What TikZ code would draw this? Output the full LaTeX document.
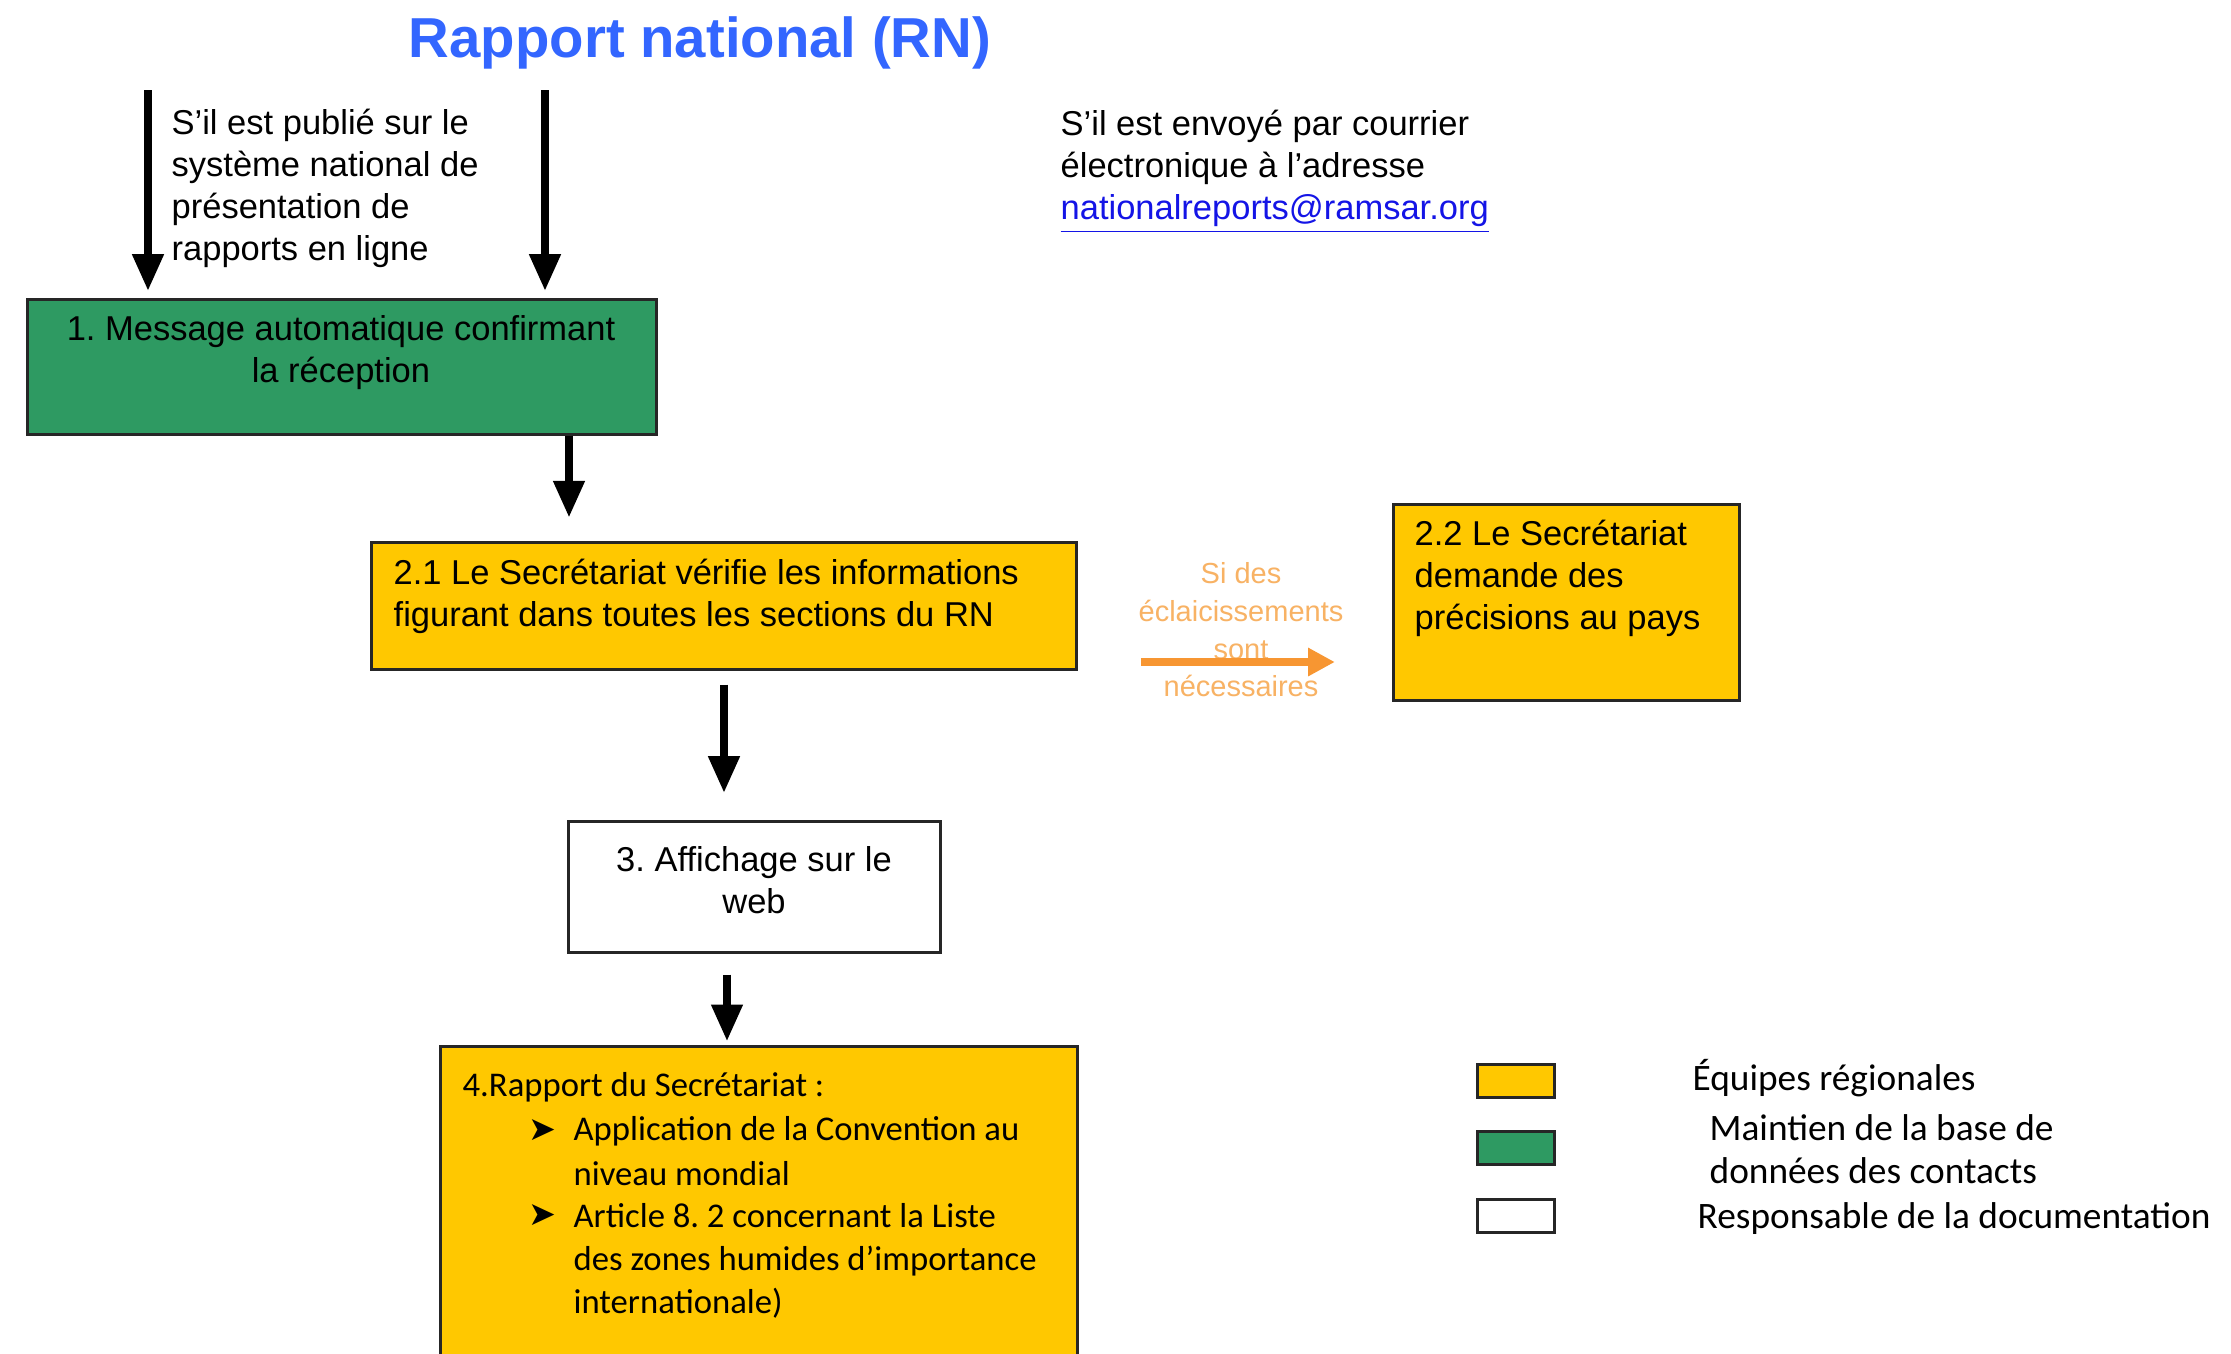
\documentclass[tikz,border=0pt]{standalone}
\usepackage{fontspec}
\setmainfont{Liberation Sans}
\newfontfamily\carl{Carlito}
\newfontfamily\djv{DejaVu Sans}
\usetikzlibrary{arrows.meta}
\definecolor{boxyellow}{RGB}{255,200,0}
\definecolor{boxgreen}{RGB}{46,154,98}
\definecolor{titleblue}{RGB}{51,102,255}
\definecolor{linkblue}{RGB}{20,20,230}
\definecolor{orarrow}{RGB}{247,150,50}
\definecolor{ortext}{RGB}{248,178,100}
\frenchspacing
\begin{document}
\begin{tikzpicture}[x=0.3pt,y=-0.3pt,
  box/.style={draw=black!85,line width=0.9pt,inner sep=0pt},
  txt/.style={inner sep=0pt,font=\fontsize{10.35}{12.6}\selectfont},
  bigarrow/.style={line width=2.3pt,-{Triangle[width=9pt,length=11pt]}},
  orangearrow/.style={draw=orarrow,line width=2.6pt,-{Triangle[width=8pt,length=8pt]}}]
\useasboundingbox (0,0) rectangle (2231,1353);
\clip (0,0) rectangle (2231,1353);
\fill[white] (0,0) rectangle (2231,1353);

% title
\node[inner sep=0pt,font=\fontsize{16.9}{20}\selectfont\bfseries,text=titleblue] (title) at (700,43) {Rapport national (RN)};

% boxes
\node[box,fill=boxgreen,minimum width=188.7pt,minimum height=40.5pt] (box1) at (341.5,366.5) {};
\node[box,fill=boxyellow,minimum width=211.5pt,minimum height=38.1pt] (box21) at (723.5,605.5) {};
\node[box,fill=boxyellow,minimum width=103.8pt,minimum height=58.8pt] (box22) at (1566,602) {};
\node[box,fill=white,minimum width=111.6pt,minimum height=39.3pt] (box3) at (754,886.5) {};
\node[box,fill=boxyellow,minimum width=191.1pt,minimum height=106.2pt] (box4) at (758.5,1223) {};

% box texts
\node[txt,align=center] (t1) at (341,353) {1. Message automatique confirmant\\la réception};
\node[txt,align=left,anchor=west] (t21) at (393,596) {2.1 Le Secrétariat vérifie les informations\\figurant dans toutes les sections du RN};
\node[txt,align=left,anchor=west] (t22) at (1414,578) {2.2 Le Secrétariat\\demande des\\précisions au pays};
\node[txt,align=center] (t3) at (754,880) {3. Affichage sur le\\web};

% box 4 text
\begin{scope}[every node/.style={inner sep=0pt,anchor=west,font=\carl\fontsize{10.4}{12.9}\selectfont}]
\node (t4h) at (462,1087) {4.Rapport du Secrétariat :};
\node[font=\djv\fontsize{10}{10}\selectfont] (b1) at (528,1130) {➤};
\node (t4a) at (573,1131) {Application de la Convention au};
\node (t4b) at (573,1174) {niveau mondial};
\node[font=\djv\fontsize{10}{10}\selectfont] (b2) at (528,1215) {➤};
\node (t4c) at (573,1216) {Article 8. 2 concernant la Liste};
\node (t4d) at (573,1261) {des zones humides d’importance};
\node (t4e) at (573,1303) {internationale)};
\end{scope}

% side labels
\node[txt,align=left,anchor=west] (lab1) at (171,188) {S’il est publié sur le\\système national de\\présentation de\\rapports en ligne};
\node[txt,align=left,anchor=west] (lab2) at (1060,172) {S’il est envoyé par courrier\\électronique à l’adresse\\\textcolor{linkblue}{\underline{nationalreports@ramsar.org}}};
\node[inner sep=0pt,align=center,text=ortext,font=\fontsize{8.7}{11.3}\selectfont] (lab3) at (1241,630) {Si des\\éclaicissements\\sont\\nécessaires};

% arrows
\coordinate (s1) at (148,90);
\coordinate (s2) at (545,90);
\coordinate (c1) at (569,0);
\coordinate (c2) at (724,0);
\coordinate (c3) at (727,0);
\coordinate (oy) at (0,662);
\draw[bigarrow,shorten >=2pt] (s1) -- (s1 |- box1.north);
\draw[bigarrow,shorten >=2pt] (s2) -- (s2 |- box1.north);
\draw[bigarrow,shorten >=6.9pt] (box1.south -| c1) -- (box21.north -| c1);
\draw[bigarrow,shorten <=4.2pt,shorten >=8pt] (box21.south -| c2) -- (box3.north -| c2);
\draw[bigarrow,shorten <=6.3pt,shorten >=1pt] (box3.south -| c3) -- (box4.north -| c3);
\draw[orangearrow,shorten <=19pt,shorten >=17pt] (box21.east |- oy) -- (box22.west |- oy);

% legend
\node[box,fill=boxyellow,minimum width=23.1pt,minimum height=9.9pt] (lg1) at (1515.5,1080.5) {};
\node[box,fill=boxgreen,minimum width=23.1pt,minimum height=9.9pt] (lg2) at (1515.5,1148) {};
\node[box,fill=white,minimum width=23.1pt,minimum height=9.9pt] (lg3) at (1515.5,1215.5) {};
\begin{scope}[every node/.style={inner sep=0pt,anchor=west,font=\carl\fontsize{11.2}{12.9}\selectfont}]
\node (lt1) at (1692,1078) {Équipes régionales};
\node (lt2) at (1709,1128) {Maintien de la base de};
\node (lt2b) at (1709,1171) {données des contacts};
\node (lt3) at (1697,1219) {Responsable de la documentation};
\end{scope}
\end{tikzpicture}
\end{document}
